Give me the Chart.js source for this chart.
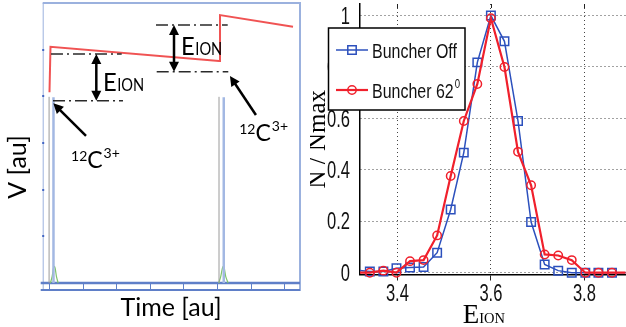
<!DOCTYPE html>
<html>
<head>
<meta charset="utf-8">
<script src="https://cdn.jsdelivr.net/npm/chart.js@4.4.0/dist/chart.umd.min.js"></script>
<style>
  html, body { margin: 0; padding: 0; background: #fff; }
  #wrap { position: relative; width: 626px; height: 327px; overflow: hidden; }
  .panel { position: absolute; top: 0; height: 327px; }
  #leftPanel { left: 0; width: 310px; }
  #rightPanel { left: 310px; width: 316px; }
</style>
</head>
<body>
<div id="wrap">
  <div class="panel" id="leftPanel"><canvas id="scopeChart"></canvas></div>
  <div class="panel" id="rightPanel"><canvas id="energyChart"></canvas></div>
</div>
<script>
// ---- left panel: scope picture, arbitrary units ----
const scopeTime = [0.012, 0.042, 5.059, 5.088, 7.262];
const scopeVolt = [4.09, 5.06, 4.76, 5.74, 5.49];
const triggerTime = [0.0, 5.059];
const triggerTop = 3.99;
const detectTime = [0.131, 5.2];
const detectTop = 3.98;
const peakTime1 = [0.04, 0.09, 0.13, 0.155, 0.18, 0.22, 0.27];
const peakTime2 = [5.05, 5.11, 5.16, 5.187, 5.215, 5.26, 5.33];
const peakHeight = [0, 0.14, 0.32, 0.36, 0.32, 0.14, 0];
const timeTicks = [0, 1, 2, 3, 4, 5, 6, 7];
const voltTicks = [1, 2, 3, 4, 5];

// ---- right panel: normalised energy distribution ----
const eIon = [3.312, 3.341, 3.370, 3.398, 3.427, 3.456, 3.485, 3.514, 3.542, 3.571, 3.600,
              3.629, 3.658, 3.686, 3.715, 3.744, 3.773, 3.802, 3.830, 3.859, 3.888];
const buncherOff = [0.01, 0.005, 0.005, 0.017, 0.02, 0.022, 0.078, 0.246, 0.467, 0.818, 1.0,
                    0.90, 0.59, 0.197, 0.032, 0.008, 0.0, 0.0, 0.0, 0.0, 0.0];
const buncher62 = [0.0, 0.0, 0.008, 0.0, 0.045, 0.049, 0.145, 0.376, 0.59, 0.734, 0.99,
                   0.80, 0.47, 0.34, 0.071, 0.067, 0.049, 0.0, 0.0, 0.0, 0.0];
const eTicks = [3.4, 3.6, 3.8];
const nTicks = [0, 0.2, 0.4, 0.6, 0.8, 1];
const seriesNames = ['Buncher Off', 'Buncher 62'];

const E_MIN = 3.32, E_MAX = 3.889;
const LABEL_FONT = 'Lato, "Open Sans", sans-serif';
const SANS = '"Liberation Sans", Arial, sans-serif';
const SERIF = '"Liberation Serif", "Times New Roman", serif';

function stems(times, top) {
    const pts = [];
    times.forEach(t => { pts.push({x: t, y: 0}, {x: t, y: top}, {x: t, y: null}); });
    return pts;
}
function zip(xs, ys) {
    return xs.map((x, i) => ({x: x, y: ys[i]}));
}

// condensed text, like the narrow faces of the original figure
function squeezed(ctx, text, x, y, sx, align) {
    ctx.save();
    ctx.translate(x, y);
    ctx.scale(sx, 1);
    ctx.textAlign = align;
    ctx.fillText(text, 0, 0);
    const w = ctx.measureText(text).width * sx;
    ctx.restore();
    return w;
}

function arrowHead(ctx, x1, y1, x2, y2, len, half) {
    const a = Math.atan2(y2 - y1, x2 - x1);
    const bx = x2 - len * Math.cos(a), by = y2 - len * Math.sin(a);
    ctx.beginPath();
    ctx.moveTo(x2, y2);
    ctx.lineTo(bx + half * Math.sin(a), by - half * Math.cos(a));
    ctx.lineTo(bx - half * Math.sin(a), by + half * Math.cos(a));
    ctx.closePath();
    ctx.fill();
}
function arrow(ctx, x1, y1, x2, y2, both) {
    const a = Math.atan2(y2 - y1, x2 - x1);
    const cut = 6;
    ctx.beginPath();
    ctx.moveTo(both ? x1 + cut * Math.cos(a) : x1, both ? y1 + cut * Math.sin(a) : y1);
    ctx.lineTo(x2 - cut * Math.cos(a), y2 - cut * Math.sin(a));
    ctx.stroke();
    arrowHead(ctx, x1, y1, x2, y2, 10, 5);
    if (both) arrowHead(ctx, x2, y2, x1, y1, 10, 5);
}

function drawEion(ctx, x, base) {
    ctx.textBaseline = 'alphabetic';
    ctx.font = '25px ' + LABEL_FONT;
    const w = squeezed(ctx, 'E', x, base, 0.95, 'left');
    ctx.font = '17px ' + LABEL_FONT;
    squeezed(ctx, 'ION', x + w + 0.5, base, 0.86, 'left');
}
function drawIon(ctx, x, base) {
    ctx.textAlign = 'left';
    ctx.textBaseline = 'alphabetic';
    ctx.font = '14px ' + LABEL_FONT;
    ctx.fillText('12', x, base - 7);
    let w = ctx.measureText('12').width;
    ctx.font = '23px ' + LABEL_FONT;
    ctx.fillText('C', x + w, base);
    w += ctx.measureText('C').width;
    ctx.font = '14px ' + LABEL_FONT;
    ctx.fillText('3+', x + w + 1, base - 10);
}

const scopeMarks = {
    id: 'scopeMarks',
    beforeDatasetsDraw(chart) {
        const {ctx, chartArea: a, scales: {x, y}} = chart;
        const y0 = y.getPixelForValue(0);
        ctx.save();
        ctx.strokeStyle = '#9bb1de';
        ctx.lineWidth = 2;
        ctx.beginPath();
        ctx.moveTo(a.left, a.top); ctx.lineTo(a.right, a.top); ctx.lineTo(a.right, a.bottom);
        ctx.stroke();
        ctx.lineWidth = 1;
        ctx.beginPath();
        ctx.moveTo(a.left + 0.5, a.top); ctx.lineTo(a.left + 0.5, a.bottom);
        ctx.stroke();
        ctx.strokeStyle = '#5f7fc8';
        ctx.lineWidth = 2.5;
        ctx.beginPath(); ctx.moveTo(a.left - 2, y0); ctx.lineTo(a.right, y0); ctx.stroke();
        ctx.lineWidth = 2;
        ctx.beginPath(); ctx.moveTo(a.left - 2, a.bottom - 1); ctx.lineTo(a.right, a.bottom - 1); ctx.stroke();
        ctx.lineWidth = 1;
        timeTicks.forEach(t => {
            const px = Math.round(x.getPixelForValue(t)) + 0.5;
            ctx.beginPath(); ctx.moveTo(px, y0); ctx.lineTo(px, a.bottom); ctx.stroke();
        });
        ctx.fillStyle = '#4266c4';
        voltTicks.forEach(v => {
            ctx.fillRect(a.left - 0.5, Math.round(y.getPixelForValue(v)) - 1, 2, 2);
        });
        ctx.restore();
    },
    afterDatasetsDraw(chart) {
        const {ctx, scales: {x, y}} = chart;
        const px = t => x.getPixelForValue(t), py = v => y.getPixelForValue(v);
        ctx.save();
        // dash-dot reference levels
        ctx.strokeStyle = '#2a2a2a';
        ctx.lineWidth = 1.5;
        ctx.setLineDash([12, 4, 2, 4]);
        [[0.057, 2.162, 4.907], [0.117, 2.20, 3.907], [3.183, 5.318, 5.529], [3.204, 5.335, 4.528]]
            .forEach(([t1, t2, v]) => {
                ctx.beginPath(); ctx.moveTo(px(t1), py(v)); ctx.lineTo(px(t2), py(v)); ctx.stroke();
            });
        ctx.setLineDash([]);
        ctx.strokeStyle = '#000';
        ctx.fillStyle = '#000';
        ctx.lineWidth = 2.5;
        arrow(ctx, px(1.406), py(4.907), px(1.406), py(3.907), true);
        arrow(ctx, px(3.719), py(5.529), px(3.719), py(4.528), true);
        arrow(ctx, px(1.099), py(3.151), px(0.126), py(3.851), false);
        arrow(ctx, px(6.158), py(3.60), px(5.384), py(4.436), false);
        drawEion(ctx, px(1.605), py(4.121));
        drawEion(ctx, px(3.93), py(4.886));
        drawIon(ctx, px(0.653), py(2.47));
        drawIon(ctx, px(5.66), py(3.04));
        // axis titles
        ctx.font = '25px ' + LABEL_FONT;
        ctx.textAlign = 'center';
        ctx.textBaseline = 'alphabetic';
        ctx.fillText('Time [au]', 171, 316);
        ctx.translate(26, 167);
        ctx.rotate(-Math.PI / 2);
        ctx.fillText('V [au]', 0, 0);
        ctx.restore();
    }
};

new Chart(document.getElementById('scopeChart'), {
    type: 'line',
    data: {
        datasets: [
            { data: zip(scopeTime, scopeVolt), borderColor: 'rgba(238,64,64,0.9)', borderWidth: 2 },
            { data: stems(triggerTime, triggerTop), borderColor: '#9a9a9a', borderWidth: 1 },
            { data: stems(detectTime, detectTop), borderColor: '#a3b8e3', borderWidth: 2.5 },
            { data: zip(peakTime1, peakHeight), borderColor: '#7fc46c', borderWidth: 1.2, tension: 0.3 },
            { data: zip(peakTime2, peakHeight), borderColor: '#7fc46c', borderWidth: 1.2, tension: 0.3 }
        ]
    },
    options: {
        responsive: true,
        maintainAspectRatio: false,
        animation: false,
        spanGaps: false,
        layout: { padding: { left: 42.7, top: 3, right: 10, bottom: 36 } },
        elements: { point: { radius: 0 } },
        plugins: { legend: { display: false }, tooltip: { enabled: false } },
        scales: {
            x: { type: 'linear', min: -0.19, max: 7.47, display: false },
            y: { type: 'linear', min: -0.17, max: 6.0, display: false }
        }
    },
    plugins: [scopeMarks]
});

// ---- right chart ----
const OFF_COLOR = '#2c50bd';
const ON_COLOR = '#f0202c';

const edgeRadius = r => ctx => {
    const p = ctx.raw;
    return (!p || p.x < E_MIN || p.x > E_MAX - 0.02) ? 0 : r;
};

const energyText = {
    id: 'energyText',
    afterDraw(chart) {
        const ctx = chart.ctx;
        const a = chart.chartArea;
        const {x, y} = chart.scales;
        ctx.save();
        // tick labels, condensed
        ctx.fillStyle = '#111';
        ctx.textBaseline = 'alphabetic';
        ctx.font = '23px ' + SANS;
        nTicks.forEach(v => {
            squeezed(ctx, String(v), a.left - 10, y.getPixelForValue(v) + 8.2, 0.72, 'right');
        });
        eTicks.forEach(v => {
            squeezed(ctx, v.toFixed(1), x.getPixelForValue(v), 300.5, 0.72, 'center');
        });
        // legend box
        ctx.fillStyle = '#fff';
        ctx.fillRect(18.5, 28, 136.5, 82);
        ctx.strokeStyle = '#000';
        ctx.lineWidth = 1.5;
        ctx.strokeRect(18.5, 28, 136.5, 82);
        const rows = [
            { y: 50, color: OFF_COLOR, shape: 'rect', text: seriesNames[0], sup: '' },
            { y: 90, color: ON_COLOR, shape: 'circle', text: seriesNames[1], sup: '0' }
        ];
        rows.forEach(r => {
            ctx.strokeStyle = r.color;
            ctx.lineWidth = r.shape === 'rect' ? 1.5 : 2.2;
            ctx.beginPath(); ctx.moveTo(26, r.y); ctx.lineTo(58, r.y); ctx.stroke();
            ctx.lineWidth = 1.5;
            ctx.beginPath();
            if (r.shape === 'rect') ctx.rect(42 - 4.2, r.y - 4.2, 8.4, 8.4);
            else ctx.arc(42, r.y, 4.2, 0, Math.PI * 2);
            ctx.stroke();
            ctx.fillStyle = '#111';
            ctx.font = '21px ' + SANS;
            const w = squeezed(ctx, r.text, 62, r.y + 7.5, 0.76, 'left');
            if (r.sup) {
                ctx.font = '12px ' + SANS;
                squeezed(ctx, r.sup, 62 + w + 1, r.y - 2, 0.8, 'left');
            }
        });
        // x title: E with small ION
        ctx.fillStyle = '#000';
        ctx.textAlign = 'left';
        ctx.font = '27px ' + SERIF;
        ctx.fillText('E', a.left + 102.7, 323);
        const wE = ctx.measureText('E').width;
        ctx.font = '14.5px ' + SERIF;
        ctx.fillText('ION', a.left + 102.7 + wE, 323);
        // short ticks on the top edge
        ctx.strokeStyle = '#222';
        ctx.lineWidth = 1;
        eTicks.forEach(v => {
            const p = Math.round(x.getPixelForValue(v)) + 0.5;
            ctx.beginPath(); ctx.moveTo(p, a.top); ctx.lineTo(p, a.top + 4); ctx.stroke();
        });
        ctx.restore();
    }
};

new Chart(document.getElementById('energyChart'), {
    type: 'line',
    data: {
        datasets: [
            {
                label: seriesNames[0],
                data: zip(eIon, buncherOff),
                borderColor: OFF_COLOR,
                borderWidth: 1.5,
                pointStyle: 'rect',
                pointRadius: edgeRadius(6),
                pointBorderWidth: 1.5,
                pointBorderColor: OFF_COLOR,
                pointBackgroundColor: 'rgba(0,0,0,0)',
                order: 2,
                clip: { left: 0, right: 0, top: 10, bottom: 10 }
            },
            {
                label: seriesNames[1],
                data: zip(eIon, buncher62),
                borderColor: ON_COLOR,
                borderWidth: 2.2,
                pointStyle: 'circle',
                pointRadius: edgeRadius(4.2),
                pointBorderWidth: 1.5,
                pointBorderColor: ON_COLOR,
                pointBackgroundColor: 'rgba(0,0,0,0)',
                order: 1,
                clip: { left: 0, right: 0, top: 10, bottom: 10 }
            }
        ]
    },
    options: {
        responsive: true,
        maintainAspectRatio: false,
        animation: false,
        layout: { padding: { left: 0, top: 4, right: 0, bottom: 0 } },
        plugins: { legend: { display: false }, tooltip: { enabled: false } },
        scales: {
            x: {
                type: 'linear',
                min: E_MIN,
                max: E_MAX,
                afterBuildTicks: s => { s.ticks = eTicks.map(v => ({value: v})); },
                afterFit: s => { s.height = 52.5; s.paddingLeft = 0; s.paddingRight = 0; },
                grid: { color: '#444', lineWidth: 1, drawTicks: true, tickLength: 6,
                        tickColor: '#222', tickBorderDash: [] },
                border: { display: true, color: '#000', width: 1.5, dash: [1, 3] },
                ticks: { display: false }
            },
            y: {
                type: 'linear',
                min: -0.007,
                max: 1.045,
                afterBuildTicks: s => { s.ticks = nTicks.map(v => ({value: v})); },
                afterFit: s => { s.width = 50; s.paddingTop = 0; s.paddingBottom = 0; },
                grid: { color: '#444', lineWidth: 1, drawTicks: false },
                border: { display: true, color: '#000', width: 1.5, dash: [1, 3] },
                ticks: { display: false },
                title: {
                    display: true,
                    text: 'N / Nmax',
                    color: '#000',
                    font: { family: SERIF, size: 25, lineHeight: 0.7 },
                    padding: 0
                }
            }
        }
    },
    plugins: [energyText]
});
</script>
</body>
</html>
